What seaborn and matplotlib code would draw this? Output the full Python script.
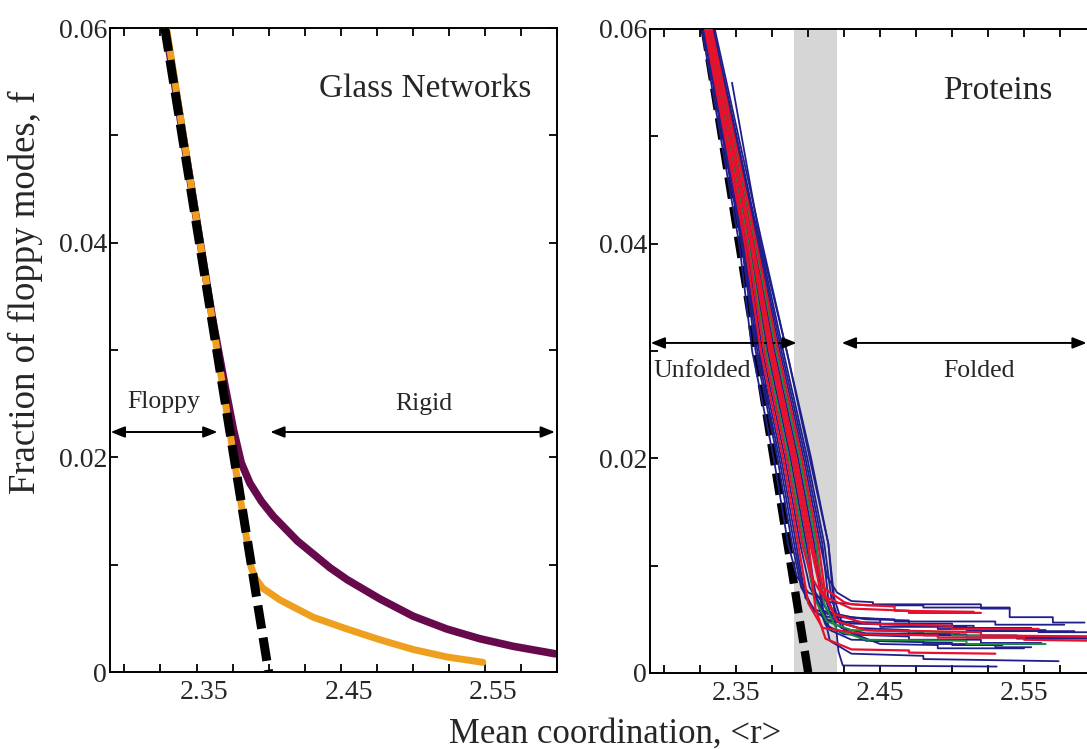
import numpy as np
import pandas as pd
import matplotlib
matplotlib.use("Agg")
import matplotlib.pyplot as plt
import seaborn as sns
from matplotlib.ticker import MultipleLocator, FixedLocator, FixedFormatter
from matplotlib.transforms import ScaledTranslation
from matplotlib.patches import ArrowStyle

# ---------------- data ----------------
maxwell_r = [2.328, 2.400]
maxwell_f = [0.060, 0.000]

glass_purple_r = [2.3285, 2.340, 2.352, 2.361, 2.369, 2.3756, 2.381, 2.387, 2.395,
                  2.4033, 2.420, 2.4427, 2.4545, 2.4773, 2.5002, 2.5237,
                  2.5465, 2.5694, 2.5986]
glass_purple_f = [0.0600, 0.0505, 0.0405, 0.0330, 0.0272, 0.0226, 0.0195, 0.0176, 0.0159,
                  0.0145, 0.0122, 0.0097, 0.0086, 0.0068, 0.0052, 0.0040,
                  0.0031, 0.0024, 0.0017]

glass_orange_r = [2.3292, 2.3878, 2.3905, 2.396, 2.408, 2.431, 2.4545, 2.4773,
                  2.5002, 2.5237, 2.5486]
glass_orange_f = [0.0600, 0.0098, 0.0088, 0.0078, 0.0067, 0.0051, 0.0040, 0.0030,
                  0.0021, 0.0014, 0.0009]

protein_blue = [
    [(2.326, .06), (2.352, .04), (2.361, .03), (2.376, .02), (2.386, .012), (2.392, .0090), (2.400, .0075),
     (2.415, .0066), (2.44, .0063), (2.48, .0063), (2.48, .0061), (2.54, .0061), (2.54, .0052), (2.57, .0052),
     (2.57, .0047), (2.592, .0047)],
    [(2.327, .06), (2.3536, .04), (2.3634, .03), (2.3786, .02), (2.3888, .012), (2.395, .008), (2.403, .006),
     (2.42, .0052), (2.46, .0050), (2.46, .0048), (2.53, .0048), (2.53, .0045), (2.578, .0045)],
    [(2.3278, .06), (2.3552, .04), (2.3658, .03), (2.3812, .02), (2.3916, .012), (2.398, .007), (2.407, .0055),
     (2.43, .0046), (2.49, .0044), (2.49, .0041), (2.56, .0041), (2.56, .0038), (2.60, .0038)],
    [(2.3287, .06), (2.3568, .04), (2.3682, .03), (2.3838, .02), (2.3944, .012), (2.401, .008), (2.41, .0058),
     (2.43, .0052), (2.45, .0050), (2.45, .0046), (2.50, .0046), (2.50, .0042), (2.555, .0042)],
    [(2.3296, .06), (2.3584, .04), (2.3706, .03), (2.3864, .02), (2.3972, .012), (2.404, .0075), (2.413, .0050),
     (2.44, .0040), (2.48, .0038), (2.48, .0035), (2.545, .0035), (2.545, .0032), (2.60, .0032)],
    [(2.3305, .06), (2.360, .04), (2.373, .03), (2.389, .02), (2.400, .012), (2.405, .007), (2.412, .0045),
     (2.425, .0036), (2.47, .0034), (2.47, .0031), (2.52, .0031), (2.52, .0028), (2.562, .0028)],
    [(2.3314, .06), (2.3616, .04), (2.3754, .03), (2.3916, .02), (2.4028, .012), (2.409, .008), (2.418, .0046),
     (2.44, .0030), (2.50, .0028), (2.50, .0026), (2.535, .0026)],
    [(2.3323, .06), (2.3632, .04), (2.3778, .03), (2.3942, .02), (2.4056, .012), (2.41, .006), (2.415, .0030),
     (2.43, .0018), (2.48, .0016), (2.48, .0013), (2.574, .0011)],
    [(2.347, .055), (2.367, .040), (2.385, .03), (2.401, .02), (2.414, .012), (2.418, .006), (2.421, .002),
     (2.424, .0007), (2.531, .0006)],
    [(2.3332, .06), (2.3648, .04), (2.3802, .03), (2.3968, .02), (2.4084, .012), (2.413, .009), (2.42, .0075),
     (2.43, .0067), (2.445, .0066), (2.445, .0064), (2.52, .0064), (2.52, .0060), (2.54, .0060)],
    [(2.3341, .06), (2.3664, .04), (2.3826, .03), (2.3994, .02), (2.4112, .012), (2.416, .007), (2.423, .0042),
     (2.44, .0037), (2.51, .0036), (2.51, .0033), (2.595, .0033)],
    [(2.335, .06), (2.368, .04), (2.385, .03), (2.402, .02), (2.414, .012), (2.418, .007), (2.425, .0040),
     (2.45, .0027), (2.49, .0026), (2.49, .0023), (2.55, .0023)],
    [(2.3274, .06), (2.3544, .04), (2.3646, .03), (2.3799, .02), (2.3902, .012), (2.396, .008), (2.404, .0058),
     (2.415, .0048), (2.45, .0047), (2.45, .0043), (2.51, .0043), (2.51, .0040), (2.565, .0040)],
    [(2.3301, .06), (2.3592, .04), (2.3718, .03), (2.3877, .02), (2.3986, .012), (2.405, .0075), (2.415, .0055),
     (2.44, .0050), (2.47, .0049), (2.47, .0044), (2.515, .0044), (2.515, .0039), (2.585, .0039)],
    [(2.3319, .06), (2.3624, .04), (2.3766, .03), (2.3929, .02), (2.4042, .012), (2.409, .0065), (2.415, .0040),
     (2.43, .0031), (2.48, .0030), (2.48, .0027), (2.53, .0027), (2.53, .0024), (2.555, .0024)],
    [(2.3337, .06), (2.3656, .04), (2.3814, .03), (2.3981, .02), (2.4098, .012), (2.414, .0068), (2.42, .0048),
     (2.435, .0042), (2.47, .0040), (2.47, .0036), (2.505, .0036)],
]

protein_red = [
    [(2.3292, .06), (2.3576, .04), (2.3694, .03), (2.3851, .02), (2.3958, .012), (2.402, .009), (2.41, .0072),
     (2.43, .0060), (2.47, .0058), (2.47, .0056), (2.52, .0056)],
    [(2.3310, .06), (2.3608, .04), (2.3742, .03), (2.3903, .02), (2.4014, .012), (2.408, .0080), (2.418, .0055),
     (2.44, .0046), (2.50, .0044), (2.50, .0041), (2.56, .0041)],
    [(2.3283, .06), (2.356, .04), (2.367, .03), (2.3825, .02), (2.393, .012), (2.40, .0065), (2.41, .0042),
     (2.44, .0036), (2.49, .0035), (2.49, .0033), (2.55, .0033), (2.55, .0031), (2.60, .0030)],
    [(2.3328, .06), (2.364, .04), (2.379, .03), (2.3955, .02), (2.407, .012), (2.412, .0072), (2.42, .0048),
     (2.44, .0040), (2.52, .0038), (2.52, .0035), (2.60, .0034)],
    [(2.3305, .06), (2.360, .04), (2.373, .03), (2.389, .02), (2.400, .012), (2.405, .006), (2.412, .0032),
     (2.43, .0022), (2.47, .0021), (2.47, .0019), (2.53, .0018)],
    [(2.3314, .06), (2.3616, .04), (2.3754, .03), (2.3916, .02), (2.4028, .012), (2.41, .008), (2.425, .0066),
     (2.43, .0064), (2.46, .0062), (2.46, .0058), (2.515, .0057)],
]

protein_green = [
    [(2.3296, .06), (2.3584, .04), (2.3706, .03), (2.3864, .02), (2.3972, .012), (2.404, .007), (2.413, .0048),
     (2.43, .0040), (2.50, .0038), (2.50, .0035), (2.60, .0034)],
    [(2.3323, .06), (2.3632, .04), (2.3778, .03), (2.3942, .02), (2.4056, .012), (2.411, .0065), (2.42, .0040),
     (2.44, .0031), (2.51, .0030), (2.51, .0027), (2.565, .0027)],
]

transition_band = (2.39, 2.42)
x_major = [2.35, 2.45, 2.55]
x_major_labels = ["2.35", "2.45", "2.55"]
y_major = [0.0, 0.02, 0.04, 0.06]
y_major_labels = ["0", "0.02", "0.04", "0.06"]

# ---------------- style ----------------
sns.set_style("ticks")
plt.rcParams["font.family"] = ["Liberation Serif", "DejaVu Serif"]
plt.rcParams["axes.linewidth"] = 1.4

C_PURPLE = "#660a4c"
C_ORANGE = "#ef9f1e"
C_BLUE = "#1f1f8c"
C_RED = "#e8102c"
C_GREEN = "#1a8c3c"

W, H = 1087, 749
fig = plt.figure(figsize=(W / 100, H / 100), dpi=100)
fig.patch.set_facecolor("white")


def px_axes(x0, y_top, x1, y_bot):
    return fig.add_axes([x0 / W, (H - y_bot) / H, (x1 - x0) / W, (y_bot - y_top) / H])


ax1 = px_axes(110, 28, 557, 672)
ax2 = px_axes(650, 29, 1096, 673)

for ax in (ax1, ax2):
    ax.set_facecolor("white")
    ax.set_xlim(2.29, 2.60)
    ax.set_ylim(0, 0.06)

dash_kw = dict(color="black", dashes=(2.6, 1.0), solid_capstyle="butt", dash_capstyle="butt")

# ---- left panel: glass networks ----
sns.lineplot(x=glass_purple_r, y=glass_purple_f, ax=ax1, color=C_PURPLE, lw=5.5,
             sort=False, estimator=None, solid_capstyle="round", solid_joinstyle="round", zorder=2)
sns.lineplot(x=glass_orange_r, y=glass_orange_f, ax=ax1, color=C_ORANGE, lw=5.0,
             sort=False, estimator=None, solid_capstyle="round", solid_joinstyle="round", zorder=3)
sns.lineplot(x=maxwell_r, y=maxwell_f, ax=ax1, lw=6.5, sort=False, estimator=None,
             zorder=4, **dash_kw)

# ---- right panel: proteins ----
ax2.axvspan(*transition_band, color="#d6d6d6", lw=0, zorder=0)
sns.lineplot(x=maxwell_r, y=maxwell_f, ax=ax2, lw=6.0, sort=False, estimator=None,
             zorder=1, **dash_kw)


def frame(runs, kind):
    rows = []
    for i, run in enumerate(runs):
        for k, (r, f) in enumerate(run):
            rows.append({"r": r, "f": f, "run": f"{kind}{i}", "order": k})
    return pd.DataFrame(rows)


for runs, kind, col, lw, z in ((protein_blue, "b", C_BLUE, 1.3, 2),
                               (protein_green, "g", C_GREEN, 1.4, 3),
                               (protein_red, "r", C_RED, 1.6, 4)):
    df = frame(runs, kind)
    sns.lineplot(data=df, x="r", y="f", units="run", estimator=None, sort=False,
                 color=col, lw=lw, ax=ax2, legend=False, zorder=z)

# ---- axes decoration ----
for ax in (ax1, ax2):
    ax.set_xlabel("")
    ax.set_ylabel("")
    ax.xaxis.set_major_locator(FixedLocator(x_major))
    ax.xaxis.set_major_formatter(FixedFormatter(x_major_labels))
    ax.xaxis.set_minor_locator(MultipleLocator(0.025))
    ax.yaxis.set_major_locator(FixedLocator(y_major))
    ax.yaxis.set_major_formatter(FixedFormatter(y_major_labels))
    ax.yaxis.set_minor_locator(MultipleLocator(0.01))
    ax.tick_params(which="both", direction="in", top=True, right=True,
                   length=6, width=1.3, color="black")
    ax.tick_params(axis="x", which="major", labelsize=20, pad=6)
    ax.tick_params(axis="y", which="major", labelsize=20, pad=2)
    for sp in ax.spines.values():
        sp.set_visible(True)
        sp.set_color("black")
        sp.set_linewidth(1.4)

# left panel's x labels sit slightly right of their ticks in the reference
off = ScaledTranslation(0.08, 0, fig.dpi_scale_trans)
for lab in ax1.get_xticklabels():
    lab.set_transform(lab.get_transform() + off)

arrow = ArrowStyle("<|-|>", head_length=0.7, head_width=0.28)
akw = dict(arrowstyle=arrow, color="black", lw=1.4, shrinkA=0, shrinkB=0, mutation_scale=12)

ax1.annotate("", xy=(2.2905, 0.02236), xytext=(2.3645, 0.02236), arrowprops=akw,
             annotation_clip=False)
ax1.annotate("", xy=(2.4012, 0.02236), xytext=(2.5985, 0.02236), arrowprops=akw,
             annotation_clip=False)
ax1.text(2.3272, 0.0246, "Floppy", fontsize=18.5, ha="center", va="baseline")
ax1.text(2.5074, 0.0244, "Rigid", fontsize=18.5, ha="center", va="baseline")
ax1.text(2.5088, 0.0536, "Glass Networks", fontsize=24, ha="center", va="baseline")

ax2.annotate("", xy=(2.2905, 0.03075), xytext=(2.3919, 0.03075), arrowprops=akw,
             annotation_clip=False)
ax2.annotate("", xy=(2.4233, 0.03075), xytext=(2.5935, 0.03075), arrowprops=akw,
             annotation_clip=False)
ax2.text(2.3263, 0.0276, "Unfolded", fontsize=18.5, ha="center", va="baseline")
ax2.text(2.5189, 0.0276, "Folded", fontsize=18.5, ha="center", va="baseline")
ax2.text(2.5314, 0.0535, "Proteins", fontsize=24, ha="center", va="baseline")

fig.text(25 / W, (H - 292) / H, "Fraction of floppy modes, f", rotation=90,
         fontsize=26.5, ha="center", va="center")
fig.text(615 / W, (H - 734) / H, "Mean coordination, <r>", fontsize=25,
         ha="center", va="center")

fig.savefig("out.png", dpi=100, facecolor="white")
